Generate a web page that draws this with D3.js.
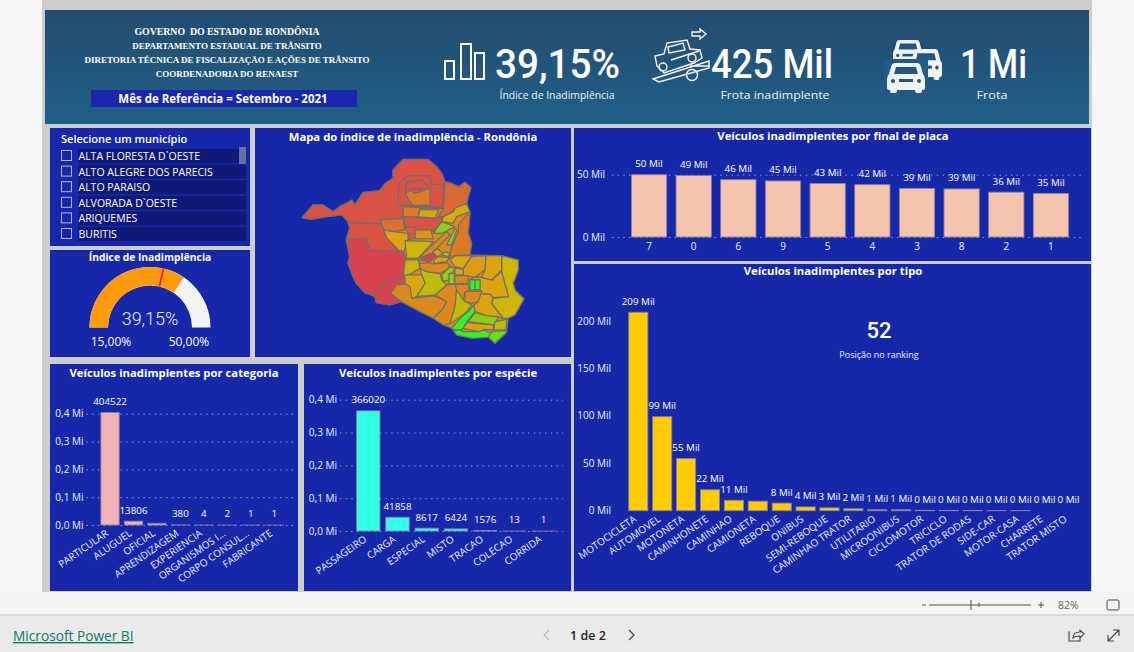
<!DOCTYPE html>
<html>
<head>
<meta charset="utf-8">
<script src="https://cdn.jsdelivr.net/npm/d3@7"></script>
<style>
  body { margin: 0; background: #f6f6f6; overflow: hidden; }
  svg { display: block; font-family: "Open Sans", sans-serif; }
  .titulo { font-weight: 700; font-size: 11.3px; fill: #fff; text-anchor: middle; dominant-baseline: middle; }
  .rotulo { font-size: 9.8px; fill: #fff; text-anchor: middle; }
  .eixo text { font-size: 10px; fill: #eef1ff; font-family: "Open Sans", sans-serif; }
  .grade line { stroke: #9aa5e0; stroke-dasharray: 1.3 4.4; }
</style>
</head>
<body>
<svg id="painel" width="1134" height="652"></svg>
<script>
const placaNomes = ["7", "0", "6", "9", "5", "4", "3", "8", "2", "1"];
const placaValores = [50, 49.4, 46, 45, 43, 42, 39, 38.6, 36, 35]; // mil veiculos
const placaTicks = [0, 50];

const tipoNomes = ["MOTOCICLETA", "AUTOMOVEL", "MOTONETA", "CAMINHONETE", "CAMINHAO", "CAMIONETA", "REBOQUE", "ONIBUS",
  "SEMI-REBOQUE", "CAMINHAO TRATOR", "UTILITARIO", "MICROONIBUS", "CICLOMOTOR", "TRICICLO", "TRATOR DE RODAS",
  "SIDE-CAR", "MOTOR-CASA", "CHARRETE", "TRATOR MISTO"];
const tipoValores = [209, 99, 55, 22, 11, 10, 8, 4, 3, 2, 1, 1, 0.4, 0.3, 0.2, 0.1, 0.1, 0, 0]; // mil veiculos
const tipoTicks = [0, 50, 100, 150, 200];
const tipoOcultos = ["CAMIONETA"];

const catNomes = ["PARTICULAR", "ALUGUEL", "OFICIAL", "APRENDIZAGEM", "EXPERIENCIA", "ORGANISMOS I...", "CORPO CONSUL...", "FABRICANTE"];
const catValores = [404522, 13806, 6000, 380, 4, 2, 1, 1];
const catOcultos = ["OFICIAL"];

const espNomes = ["PASSAGEIRO", "CARGA", "ESPECIAL", "MISTO", "TRACAO", "COLECAO", "CORRIDA"];
const espValores = [366020, 41858, 8617, 6424, 1576, 13, 1];
const miTicks = [0, 100000, 200000, 300000, 400000];

const municipios = ["ALTA FLORESTA D`OESTE", "ALTO ALEGRE DOS PARECIS", "ALTO PARAISO", "ALVORADA D`OESTE", "ARIQUEMES", "BURITIS"];
const indiceAtual = 39.15, indiceMeta = 35, indiceMin = 15, indiceMax = 50;

// contornos do mapa, tracados sobre a imagem (unidades do desenho, ajustadas com geoIdentity)
const mapaContornos = [
  [[141,278],[174,240],[204,240],[234,260],[254,245],[274,235],[291,225],[299,240],[324,203],[374,197],[391,175],[414,160],[414,135],[444,103],[519,103],[545,125],[560,145],[570,170],[590,175],[610,185],[630,172],[648,188],[640,215],[635,240],[645,265],[640,325],[650,355],[645,390],[740,392],[790,405],[790,435],[775,475],[780,495],[807,522],[780,570],[760,580],[755,620],[720,655],[700,635],[650,640],[605,630],[590,610],[565,600],[535,580],[495,560],[439,530],[404,540],[364,533],[359,515],[329,503],[304,475],[294,455],[279,415],[284,395],[274,345],[284,310],[279,290],[261,270],[214,275],[169,283]],
  [[141,278],[174,240],[204,240],[234,260],[254,245],[274,235],[291,225],[299,240],[324,203],[374,197],[391,175],[414,160],[414,135],[444,103],[519,103],[545,125],[560,145],[570,170],[565,250],[500,250],[445,245],[444,280],[379,285],[379,297],[279,293],[279,290],[261,270],[214,275],[169,283]],
  [[570,170],[590,175],[610,185],[630,172],[648,188],[640,215],[635,235],[600,250],[595,260],[565,275],[550,275],[565,250]],
  [[430,210],[432,175],[460,152],[525,152],[530,178],[565,178],[565,248],[525,245],[430,240]],
  [[455,172],[500,165],[525,190],[470,192],[452,205]],
  [[452,205],[470,195],[478,205],[495,200],[525,190],[525,240],[475,242],[458,220]],
  [[445,245],[495,248],[490,275],[444,280]],
  [[495,255],[552,255],[540,280],[490,275]],
  [[445,275],[540,280],[565,275],[560,290],[535,320],[480,313],[450,303]],
  [[379,285],[444,280],[449,315],[414,320],[386,315],[379,297]],
  [[449,307],[484,307],[479,340],[459,345],[459,325]],
  [[481,315],[528,315],[535,342],[480,342]],
  [[386,315],[414,320],[459,325],[459,345],[447,380],[429,375],[394,337]],
  [[279,293],[379,297],[386,315],[394,337],[429,375],[447,383],[344,375],[334,340],[274,343],[284,310]],
  [[274,345],[334,340],[344,375],[429,380],[447,383],[455,420],[447,450],[394,470],[359,510],[329,503],[304,475],[294,455],[279,415],[284,395]],
  [[359,510],[394,470],[447,450],[447,475],[424,480],[407,505],[439,530],[404,540],[364,533]],
  [[407,505],[424,480],[469,475],[470,520],[540,513],[575,530],[565,550],[535,580],[495,560],[439,530]],
  [[540,510],[575,480],[605,477],[605,495],[600,545],[585,595],[565,600],[535,580],[565,550],[575,530]],
  [[605,490],[625,525],[650,540],[630,565],[595,590],[585,595],[600,545]],
  [[590,610],[615,580],[640,560],[657,540],[660,560],[635,590],[625,610],[610,620]],
  [[595,617],[615,615],[625,620],[670,620],[685,615],[705,623],[715,625],[700,637],[650,640],[605,630]],
  [[635,593],[715,600],[715,615],[690,613],[670,620],[625,610]],
  [[660,563],[700,573],[730,570],[725,590],[715,600],[640,590]],
  [[720,590],[755,583],[753,615],[717,615]],
  [[710,620],[755,617],[753,625],[720,655],[700,637]],
  [[675,507],[705,507],[715,520],[710,535],[745,580],[725,575],[700,573],[660,560],[657,540],[670,530]],
  [[740,392],[790,405],[790,435],[775,475],[780,495],[807,522],[780,570],[760,580],[745,580],[710,535],[715,520],[760,515],[740,440]],
  [[660,457],[680,457],[710,465],[740,440],[760,515],[715,517],[705,507],[675,505],[675,465],[645,463]],
  [[630,500],[680,498],[670,530],[650,535],[630,530]],
  [[645,465],[660,465],[660,495],[645,495]],
  [[660,465],[675,465],[675,493],[660,495]],
  [[693,392],[740,392],[740,435],[710,465],[680,457],[690,435]],
  [[650,395],[693,392],[690,435],[660,457],[625,450],[625,430]],
  [[585,405],[600,392],[650,392],[625,430],[600,425]],
  [[600,452],[640,452],[640,475],[600,477]],
  [[560,450],[585,425],[600,430],[580,465],[565,470]],
  [[582,445],[598,445],[598,477],[582,477]],
  [[600,427],[625,435],[625,450],[600,450]],
  [[600,478],[640,478],[643,497],[630,500],[625,525],[605,495]],
  [[495,430],[515,440],[555,445],[560,465],[575,480],[540,510],[485,515],[510,475],[500,450]],
  [[450,405],[490,405],[495,430],[470,445],[445,455]],
  [[450,450],[500,450],[510,475],[485,515],[470,520],[465,485],[450,475]],
  [[495,415],[525,413],[535,417],[575,413],[585,420],[575,435],[555,445],[515,440],[495,430]],
  [[490,405],[530,385],[545,393],[525,410]],
  [[450,347],[535,350],[490,400],[455,400]],
  [[490,400],[575,320],[585,330],[530,385]],
  [[533,382],[547,370],[563,385],[547,395]],
  [[560,390],[570,380],[585,385],[580,395]],
  [[535,407],[550,395],[583,397],[575,410],[540,415]],
  [[610,300],[635,270],[645,265],[640,325],[650,355],[645,390],[600,392],[585,400],[585,385],[590,365],[610,320]],
  [[535,325],[560,290],[600,305],[560,325]],
  [[575,360],[600,310],[605,315],[590,360]],
  [[560,290],[565,275],[595,260],[600,250],[635,235],[645,260],[605,275],[595,295]]
];
// indice de inadimplencia (%) de cada contorno acima, estimado pela cor
const mapaIndices = [37, 47, 43, 47, 47, 39, 39, 34, 47, 41, 46, 36, 34, 47, 50, 50, 37, 37, 29, 15, 15, 34, 24, 28, 20, 34, 30, 34, 37, 15, 15, 34, 35, 33, 37, 25, 24, 34, 37, 28.5, 30, 33, 37, 50, 30, 37, 33, 25, 34, 39, 24, 23, 32];

// ---- estrutura da pagina ----
const svg = d3.select("#painel");
const defs = svg.append("defs");
const grad = defs.append("linearGradient").attr("id", "topo").attr("x1", 0).attr("x2", 0).attr("y1", 0).attr("y2", 1);
grad.append("stop").attr("offset", 0).attr("stop-color", "#234c6f");
grad.append("stop").attr("offset", 1).attr("stop-color", "#215f88");

svg.append("rect").attr("x", 42).attr("y", 0).attr("width", 1050).attr("height", 592).attr("fill", "#cdcdcd");
svg.append("rect").attr("x", 45).attr("y", 10).attr("width", 1044).attr("height", 114).attr("fill", "url(#topo)");

const azul = "#1628a9";
const paineis = [[50, 128, 200, 118], [50, 250, 200, 107], [255, 128, 316, 229], [50, 364, 248, 227], [304, 364, 267, 227], [574, 128, 517, 133], [574, 264, 517, 327]];
svg.selectAll("rect.painel").data(paineis).enter().append("rect").attr("class", "painel")
  .attr("x", d => d[0]).attr("y", d => d[1]).attr("width", d => d[2]).attr("height", d => d[3]).attr("fill", azul);

function titulo(txt, x, y) {
  return svg.append("text").attr("class", "titulo").attr("x", x).attr("y", y).text(txt);
}

// ---- cabecalho ----
const linhasTopo = ["GOVERNO  DO ESTADO DE RONDÔNIA", "DEPARTAMENTO ESTADUAL DE TRÂNSITO", "DIRETORIA TÉCNICA DE FISCALIZAÇÃO E AÇÕES DE TRÂNSITO", "COORDENADORIA DO RENAEST"];
svg.selectAll("text.orgao").data(linhasTopo).enter().append("text").attr("class", "orgao")
  .attr("x", 227).attr("y", (d, i) => 34.5 + i * 14).attr("text-anchor", "middle")
  .attr("font-family", "Liberation Serif").attr("font-weight", 700).attr("font-size", (d, i) => i == 0 ? 9.8 : 9).attr("fill", "#fff")
  .attr("xml:space", "preserve").text(d => d);
svg.append("rect").attr("x", 91).attr("y", 90).attr("width", 266).attr("height", 17).attr("fill", "#1a26ad");
svg.append("text").attr("x", 223).attr("y", 102.5).attr("text-anchor", "middle").attr("fill", "#fff")
  .attr("font-weight", 700).attr("font-size", 11.5).text("Mês de Referência = Setembro - 2021");

const kpis = [
  { valor: "39,15%", x: 495, larg: 125, sub: "Índice de Inadimplência", subx: 557, subl: 115 },
  { valor: "425 Mil", x: 711, larg: 122, sub: "Frota inadimplente", subx: 775, subl: 109 },
  { valor: "1 Mi", x: 960, larg: 67, sub: "Frota", subx: 992, subl: 31 }
];
kpis.forEach(k => {
  svg.append("text").attr("x", k.x).attr("y", 78).attr("font-family", "Roboto").attr("font-weight", 500).attr("font-size", 40).attr("fill", "#fff")
    .attr("textLength", k.larg).attr("lengthAdjust", "spacingAndGlyphs").text(k.valor);
  svg.append("text").attr("x", k.subx).attr("y", 99).attr("text-anchor", "middle").attr("font-size", 11).attr("fill", "#eef3f8")
    .attr("textLength", k.subl).attr("lengthAdjust", "spacingAndGlyphs").text(k.sub);
});

// icones do cabecalho
const icones = svg.append("g").attr("fill", "none").attr("stroke", "#fff").attr("stroke-width", 2);
[[445, 61, 9, 18], [461, 44, 10, 35], [475, 53, 9, 26]].forEach(r => {
  icones.append("rect").attr("x", r[0]).attr("y", r[1]).attr("width", r[2]).attr("height", r[3]);
});
const guincho = svg.append("g").attr("fill", "none").attr("stroke", "#f4f6f8").attr("stroke-width", 1.4);
guincho.append("path").attr("d", "M692 32h8v-3l6 5-6 5v-3h-8z");
guincho.append("path").attr("d", "M657 66l-2-10 9-2 3-11 20-3 3 9 10 1 2 8-8 5-30 10z");
guincho.append("path").attr("d", "M668 47l1 6 16-3-2-7zM653 79l56-18v7l-50 14zM690 66h20M671 60l28-9");
guincho.append("circle").attr("cx", 663).attr("cy", 67).attr("r", 4);
guincho.append("circle").attr("cx", 692).attr("cy", 58).attr("r", 4);
guincho.append("circle").attr("cx", 692).attr("cy", 75).attr("r", 5.5);

function carro(x, y, w, h) {
  const g = svg.append("g").attr("transform", `translate(${x},${y}) scale(${w / 38},${h / 30})`).attr("fill", "#f1f2f4");
  g.append("path").attr("d", "M8 0h22q3 0 4 4l2 7q2 2 2 5v9q0 2-2 2h-1v1q0 2-2 2h-3q-2 0-2-2v-1H10v1q0 2-2 2H5q-2 0-2-2v-1H2q-2 0-2-2v-9q0-3 2-5l2-7q1-4 4-4z");
  g.append("path").attr("d", "M9 4h20l2 7H7z").attr("fill", "#225781");
  g.append("circle").attr("cx", 6).attr("cy", 18).attr("r", 2).attr("fill", "#225781");
  g.append("circle").attr("cx", 32).attr("cy", 18).attr("r", 2).attr("fill", "#225781");
  g.append("rect").attr("x", 12).attr("y", 16).attr("width", 14).attr("height", 3).attr("fill", "#225781");
}
carro(893, 40, 30, 26);
carro(910, 49, 32, 31);
svg.append("rect").attr("x", 884).attr("y", 59).attr("width", 44).attr("height", 36).attr("fill", "#225a83");
carro(887, 63, 38, 30);

// ---- filtro de municipio ----
svg.append("text").attr("x", 61).attr("y", 143).attr("fill", "#fff").attr("font-size", 11).attr("font-weight", 600).text("Selecione um município");
const linhaY = d3.scaleLinear().domain([0, 5]).range([156, 234]);
const linhas = svg.selectAll("g.linha").data(municipios).enter().append("g").attr("class", "linha")
  .attr("transform", (d, i) => `translate(0,${linhaY(i)})`);
linhas.append("rect").attr("x", 78).attr("y", -7).attr("width", 168).attr("height", 14).attr("fill", "#0f1a78");
linhas.append("rect").attr("x", 61.5).attr("y", -5.5).attr("width", 10).attr("height", 10).attr("fill", "none").attr("stroke", "#b4b8d8");
linhas.append("text").attr("x", 78.5).attr("y", 4).attr("fill", "#fff").attr("font-size", 10.5).text(d => d);
svg.append("rect").attr("x", 239).attr("y", 147).attr("width", 7).attr("height", 17).attr("fill", "#666da8");

// ---- medidor ----
titulo("Índice de Inadimplência", 150, 258.5).style("font-size", "10.3px");
const medidor = svg.append("g").attr("transform", "translate(150,327.5)");
const angulo = d3.scaleLinear().domain([indiceMin, indiceMax]).range([-Math.PI / 2, Math.PI / 2]);
const arco = d3.arc().innerRadius(42).outerRadius(60.5);
medidor.append("path").attr("d", arco({ startAngle: angulo(indiceMin), endAngle: angulo(indiceMax) })).attr("fill", "#f3f3f3");
medidor.append("path").attr("d", arco({ startAngle: angulo(indiceMin), endAngle: angulo(indiceAtual) })).attr("fill", "#ff9a0c");
const aM = angulo(indiceMeta);
medidor.append("line").attr("stroke", "#f01818").attr("stroke-width", 1.6)
  .attr("x1", 42 * Math.sin(aM)).attr("y1", -42 * Math.cos(aM)).attr("x2", 60.5 * Math.sin(aM)).attr("y2", -60.5 * Math.cos(aM));
svg.append("text").attr("x", 150).attr("y", 325).attr("text-anchor", "middle").attr("fill", "#e8edff").attr("font-size", 18).attr("font-weight", 300)
  .attr("font-family", "Roboto").text("39,15%");
svg.append("text").attr("x", 111).attr("y", 346).attr("text-anchor", "middle").attr("fill", "#fff").attr("font-size", 12).text("15,00%");
svg.append("text").attr("x", 189).attr("y", 346).attr("text-anchor", "middle").attr("fill", "#fff").attr("font-size", 12).text("50,00%");

// ---- mapa ----
titulo("Mapa do índice de inadimplência - Rondônia", 413, 137.5);
// geojson exige anel fechado, senao o ultimo ponto se perde
const mapa = { type: "FeatureCollection", features: mapaContornos.map((c, i) => ({
  type: "Feature", properties: { indice: mapaIndices[i] }, geometry: { type: "Polygon", coordinates: [[...c, c[0]]] } })) };
const corIndice = d3.scaleLinear().domain([15, 30, 34, 38, 50]).range(["#30f51e", "#cdb606", "#dca40e", "#dc8020", "#d8434f"]);
const projecao = d3.geoIdentity().fitExtent([[302, 159.3], [524, 343.3]], mapa);
svg.append("g").selectAll("path").data(mapa.features).enter().append("path")
  .attr("d", d3.geoPath(projecao))
  .attr("fill", d => corIndice(d.properties.indice))
  .attr("stroke", "#6e6e6e").attr("stroke-width", 1.2).attr("stroke-linejoin", "round");

// ---- graficos de colunas ----
const ptBR = d3.formatLocale({ decimal: ",", thousands: ".", grouping: [3], currency: ["R$", ""] });
const fmtMi = v => ptBR.format(".1f")(v / 1e6) + " Mi";
const fmtMil = v => ptBR.format(".0f")(v) + " Mil";
const fmtInt = d3.format("d");

function colunas(o) {
  const x = d3.scaleBand().domain(o.nomes).range(o.xFaixa).paddingInner(o.pad).paddingOuter(o.pad / 2);
  const y = d3.scaleLinear().domain(o.dominio).range(o.yFaixa);
  const g = svg.append("g");

  // eixo y: em alguns graficos as linhas do tick viram a grade pontilhada
  const eixoY = g.append("g").attr("class", "eixo grade").attr("transform", `translate(${o.gradeX[0]},0)`)
    .call(d3.axisLeft(y).tickValues(o.ticks).tickFormat(o.fmtTick).tickSize(o.gradeY ? -(o.gradeX[1] - o.gradeX[0]) : 0).tickPadding(o.folga || 3));
  eixoY.select(".domain").remove();

  g.selectAll("rect.col").data(o.nomes).enter().append("rect").attr("class", "col")
    .attr("x", d => x(d)).attr("width", x.bandwidth())
    .attr("y", (d, i) => y(o.valores[i])).attr("height", (d, i) => y(0) - y(o.valores[i]))
    .attr("fill", o.cor).attr("stroke", "#8a7f9a").attr("stroke-width", 0.9);

  g.selectAll("text.rotulo").data(o.nomes.filter(n => !(o.ocultos || []).includes(n))).enter().append("text").attr("class", "rotulo")
    .attr("x", d => x(d) + x.bandwidth() / 2)
    .attr("y", d => y(o.valores[o.nomes.indexOf(d)]) - 7.5)
    .text(d => o.fmtRotulo(o.valores[o.nomes.indexOf(d)]));

  const eixoX = g.append("g").attr("class", "eixo").attr("transform", `translate(0,${o.yFaixa[0]})`)
    .call(d3.axisBottom(x).tickSize(0).tickPadding(6));
  eixoX.select(".domain").remove();
  if (o.rodar) {
    eixoX.selectAll("text").attr("text-anchor", "end").attr("y", 0).attr("dy", "0.35em")
      .attr("transform", "translate(-3,7) rotate(-35)").attr("fill", "#e4e8ff");
  }
}

titulo("Veículos inadimplentes por final de placa", 833, 137);
colunas({ nomes: placaNomes, valores: placaValores, xFaixa: [626.7, 1073.3], pad: 0.21, dominio: [0, 50], yFaixa: [237, 174.7],
  gradeX: [612, 1081], gradeY: true, folga: 7, ticks: placaTicks, fmtTick: fmtMil, fmtRotulo: fmtMil, cor: "#f4c4ae" });

titulo("Veículos inadimplentes por tipo", 833, 272);
colunas({ nomes: tipoNomes, valores: tipoValores, xFaixa: [626.35, 1080.45], pad: 0.2, dominio: [0, 200], yFaixa: [510.7, 320.8],
  gradeX: [614, 1081], gradeY: false, ticks: tipoTicks, fmtTick: fmtMil, fmtRotulo: fmtMil, cor: "#ffcc00", rodar: true, ocultos: tipoOcultos });
svg.append("text").attr("x", 879).attr("y", 338).attr("text-anchor", "middle").attr("fill", "#fff").attr("font-family", "Roboto").attr("font-size", 22).attr("font-weight", 500).text("52");
svg.append("text").attr("x", 879).attr("y", 358).attr("text-anchor", "middle").attr("fill", "#eef1ff").attr("font-size", 9).text("Posição no ranking");

titulo("Veículos inadimplentes por categoria", 174, 373.5);
colunas({ nomes: catNomes, valores: catValores, xFaixa: [98.3, 286], pad: 0.22, dominio: [0, 400000], yFaixa: [525, 413.7],
  gradeX: [86.5, 294], gradeY: true, ticks: miTicks, fmtTick: fmtMi, fmtRotulo: fmtInt, cor: "#efb3b8", rodar: true, ocultos: catOcultos });

titulo("Veículos inadimplentes por espécie", 438, 373.5);
colunas({ nomes: espNomes, valores: espValores, xFaixa: [353.7, 558.1], pad: 0.2, dominio: [0, 400000], yFaixa: [531, 399.7],
  gradeX: [340, 563], gradeY: true, ticks: miTicks, fmtTick: fmtMi, fmtRotulo: fmtInt, cor: "#33ffe6", rodar: true });

// ---- barra inferior do visualizador ----
svg.append("rect").attr("x", 0).attr("y", 592).attr("width", 1134).attr("height", 23).attr("fill", "#f4f4f4");
svg.append("rect").attr("x", 0).attr("y", 615).attr("width", 1134).attr("height", 37).attr("fill", "#eaeaea");
svg.append("line").attr("x1", 0).attr("x2", 1134).attr("y1", 615).attr("y2", 615).attr("stroke", "#d2d2d2").attr("stroke-width", 1.5);
svg.append("text").attr("x", 13).attr("y", 641).attr("fill", "#117865").attr("font-size", 13.7).attr("text-decoration", "underline").text("Microsoft Power BI");
svg.append("text").attr("x", 588).attr("y", 640).attr("text-anchor", "middle").attr("fill", "#252423").attr("font-size", 12.5).attr("font-weight", 600).text("1 de 2");
const rodape = svg.append("g").attr("fill", "none").attr("stroke", "#444");
rodape.append("path").attr("d", "M549 630l-5 5 5 5").attr("stroke", "#bbb").attr("stroke-width", 1.2);
rodape.append("path").attr("d", "M629 630l5 5-5 5").attr("stroke-width", 1.2);
rodape.append("path").attr("d", "M929 605h102M971 600v10M979 603v4M922 605h4M1038 605h6M1041 602v6").attr("stroke", "#555");
svg.append("text").attr("x", 1058).attr("y", 609).attr("fill", "#666").attr("font-size", 10.5).text("82%");
rodape.append("rect").attr("x", 1107).attr("y", 600).attr("width", 12).attr("height", 10).attr("rx", 1.5);
rodape.append("path").attr("d", "M1070 632h-1v9h11v-4M1073 638c0-4 3-6 7-6v-2l4 4-4 4v-2c-3 0-5 0-7 2z").attr("stroke-width", 1.1);
rodape.append("path").attr("d", "M1108 641l11-11M1113 630h6v6M1108 635v6h6").attr("stroke-width", 1.1);
</script>
</body>
</html>
